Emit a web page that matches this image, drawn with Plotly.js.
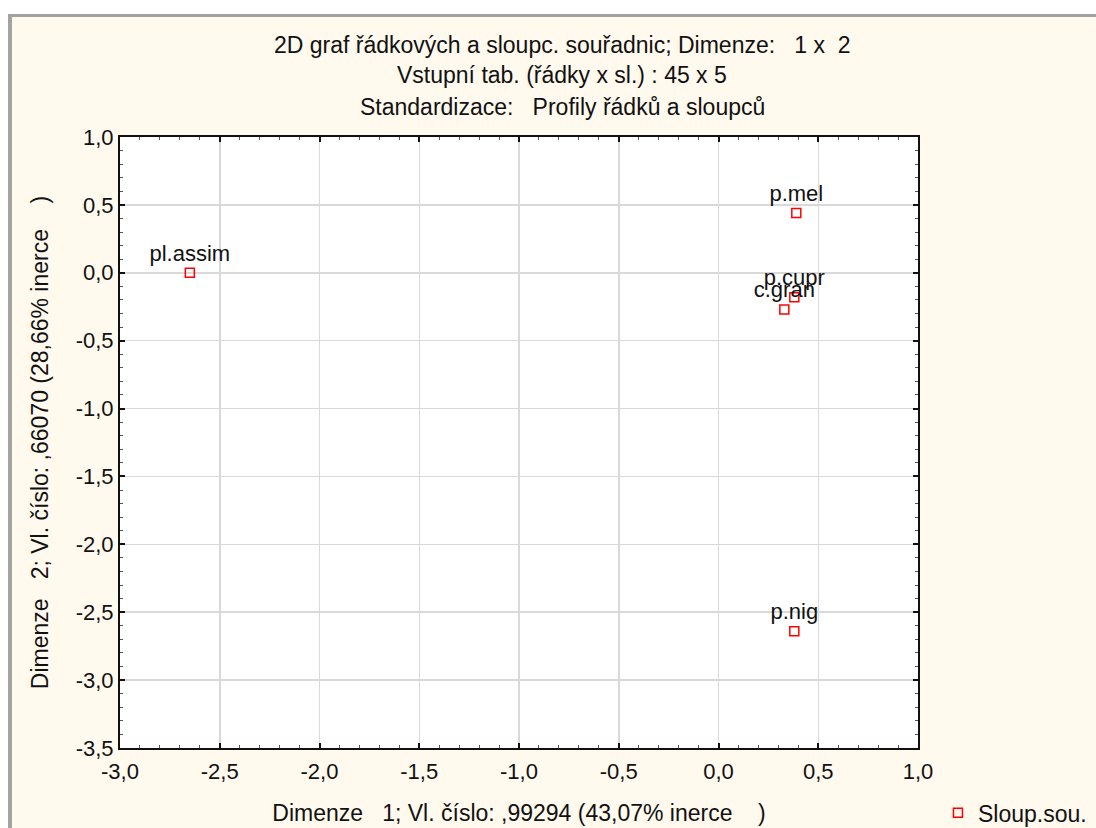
<!DOCTYPE html>
<html>
<head>
<meta charset="utf-8">
<script src="https://cdn.plot.ly/plotly-3.0.1.min.js"></script>
<style>
  html, body { margin: 0; padding: 0; background: #ffffff; width: 1096px; height: 828px; overflow: hidden; }
  #frame { position: absolute; left: 8px; top: 14px; width: 1088px; height: 814px;
           border-left: 4px solid #a3a3a3; border-top: 3px solid #a3a3a3; box-sizing: border-box; }
  #chart { position: absolute; left: 12px; top: 17px; width: 1084px; height: 811px; }
</style>
</head>
<body>
<div id="frame"></div>
<div id="chart"></div>
<script>
// Data
const labels = ['pl.assim', 'p.mel', 'p.cupr', 'c.gran', 'p.nig'];
const dim1 = [-2.65, 0.39, 0.38, 0.33, 0.38];
const dim2 = [0.00, 0.44, -0.18, -0.27, -2.64];
const seriesName = 'Sloup.sou.';
const xTickVals = [-3.0, -2.5, -2.0, -1.5, -1.0, -0.5, 0.0, 0.5, 1.0];
const xTickText = ['-3,0', '-2,5', '-2,0', '-1,5', '-1,0', '-0,5', '0,0', '0,5', '1,0'];
const yTickVals = [-3.5, -3.0, -2.5, -2.0, -1.5, -1.0, -0.5, 0.0, 0.5, 1.0];
const yTickText = ['-3,5', '-3,0', '-2,5', '-2,0', '-1,5', '-1,0', '-0,5', '0,0', '0,5', '1,0'];
const titleLines = [
  '2D graf řádkových a sloupc. souřadnic; Dimenze:   1 x  2',
  'Vstupní tab. (řádky x sl.) : 45 x 5',
  'Standardizace:   Profily řádků a sloupců'
];
const xTitle = 'Dimenze   1; Vl. číslo: ,99294 (43,07% inerce    )';
const yTitle = 'Dimenze   2; Vl. číslo: ,66070 (28,66% inerce    )';

const FONT = 'Liberation Sans, Arial, sans-serif';
const FS_TITLE = 23;
const FS_TICK = 22;
const FS_LABEL = 22;
const INK = '#111111';

const trace = {
  type: 'scatter',
  mode: 'markers+text',
  x: dim1,
  y: dim2,
  text: labels,
  textposition: 'top center',
  textfont: { family: FONT, size: FS_LABEL, color: INK },
  name: seriesName,
  marker: { symbol: 'square-open', size: 9, color: '#ff0000', line: { width: 1.5, color: '#ff0000' } },
  cliponaxis: false,
  showlegend: true
};

function axisCommon() {
  return {
    showline: true, linecolor: INK, linewidth: 2, mirror: 'allticks',
    ticks: 'inside', ticklen: 5, tickwidth: 2, tickcolor: INK,
    minor: { dtick: 0.1, ticks: 'inside', ticklen: 3, tickwidth: 1, tickcolor: '#555555', showgrid: false },
    showgrid: true, gridcolor: '#d9d9d9', gridwidth: 1.5,
    zeroline: false, tickmode: 'array',
    tickfont: { family: FONT, size: FS_TICK, color: INK }
  };
}

const xaxis = Object.assign(axisCommon(), {
  range: [-3.0, 1.0], tickvals: xTickVals, ticktext: xTickText, ticklabelstandoff: 3,
  title: { text: xTitle, font: { family: FONT, size: FS_TITLE, color: INK }, standoff: 21 }
});
const yaxis = Object.assign(axisCommon(), {
  range: [-3.5, 1.0], tickvals: yTickVals, ticktext: yTickText,
  title: { text: yTitle, font: { family: FONT, size: FS_TITLE, color: INK }, standoff: 21 }
});

const annotations = titleLines.map((t, i) => ({
  text: t, xref: 'paper', yref: 'paper',
  x: 0.554, y: [1.1506, 1.1015, 1.049][i],
  xanchor: 'center', yanchor: 'middle', showarrow: false,
  font: { family: FONT, size: FS_TITLE, color: INK }
}));

const layout = {
  width: 1084, height: 811,
  margin: { l: 108, r: 178, t: 120, b: 80, autoexpand: false },
  paper_bgcolor: '#fff9ee',
  plot_bgcolor: '#ffffff',
  font: { family: FONT, size: FS_TICK, color: INK },
  xaxis: xaxis,
  yaxis: yaxis,
  annotations: annotations,
  showlegend: true,
  legend: {
    x: 1.025, y: -0.106, xanchor: 'left', yanchor: 'middle',
    bgcolor: 'rgba(0,0,0,0)', borderwidth: 0,
    font: { family: FONT, size: FS_TITLE, color: INK }
  }
};

Plotly.newPlot('chart', [trace], layout, { displayModeBar: false, staticPlot: true });
</script>
</body>
</html>
